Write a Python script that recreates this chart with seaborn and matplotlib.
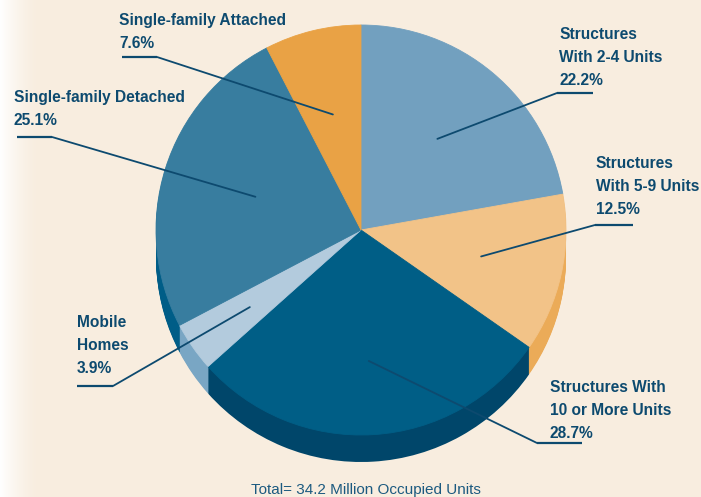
import numpy as np
import matplotlib
matplotlib.use("Agg")
import matplotlib.pyplot as plt
import seaborn as sns

# Housing units by structure type (share of 34.2 million occupied units)
categories = ["Structures\nWith 2-4 Units", "Structures\nWith 5-9 Units",
              "Structures With\n10 or More Units", "Mobile\nHomes",
              "Single-family Detached", "Single-family Attached"]
shares = [22.2, 12.5, 28.7, 3.9, 25.1, 7.6]
top_colors = ["#72A0BF", "#F2C388", "#005E86", "#B3CBDD", "#387D9F", "#E9A245"]
side_colors = ["#5C8BAA", "#EBAB58", "#00466A", "#79A6C4", "#005D87", "#D08A30"]
total_label = "Total= 34.2 Million Occupied Units"

W, H = 701, 497
TXT = "#0D4A6F"

sns.set_theme(style="white")
plt.rcParams["font.family"] = ["Liberation Sans", "DejaVu Sans"]

fig = plt.figure(figsize=(W / 100, H / 100), dpi=100)
fig.patch.set_facecolor("#F8EDDF")
ax = fig.add_axes([0, 0, 1, 1])


def py(y):
    # image-style y (top down) -> axis y
    return H - y


cx, cy, R = 361, py(230), 205
depth = 27

# side of the disc: stacked darker copies of the pie
for k in range(depth, 0, -1):
    ax.pie(shares, colors=side_colors, startangle=90, counterclock=False,
           center=(cx, cy - k), radius=R,
           wedgeprops=dict(linewidth=0.6, edgecolor="none"))
wedges, _ = ax.pie(shares, colors=top_colors, startangle=90, counterclock=False,
                   center=(cx, cy), radius=R, wedgeprops=dict(linewidth=0.6))
for w, c in zip(wedges, top_colors):
    w.set_edgecolor(c)

# faint white fade on the left edge
grad = np.linspace(1, 0, 60)[None, :]
ax.imshow(np.dstack([np.ones((1, 60, 3)), grad[..., None] ** 1.5]),
          extent=(0, 40, 0, H), aspect="auto", zorder=0.5)
ax.set_xlim(0, W)
ax.set_ylim(0, H)
ax.set_aspect("equal")
ax.axis("off")

# label layout: text x, cap top of first line, underline (x0, x1, y),
# which underline end the leader leaves from, leader depth into the wedge
labels = [
    (559, 27, (557, 593, 93), 0, 0.58),
    (596, 156, (595, 633, 225), 0, 0.60),
    (550, 380, (537, 582, 443), 0, 0.64),
    (77, 315, (77, 113, 386), 1, 0.66),
    (14, 90, (17, 52, 137), 1, 0.54),
    (119, 13, (122, 157, 57), 1, 0.58),
]
pitch = 23.4
cap = 11.6

for name, val, (tx, ty, (ux0, ux1, uy), side, frac), w in zip(
        categories, shares, labels, wedges):
    lines = name.split("\n") + [f"{val:.1f}%"]
    for i, line in enumerate(lines):
        ax.text(tx, py(ty + cap + i * pitch), line, ha="left", va="baseline",
                fontsize=11.2, fontweight="bold", color=TXT, zorder=5)
    mid = np.deg2rad((w.theta1 + w.theta2) / 2)
    ex, ey = cx + frac * R * np.cos(mid), cy + frac * R * np.sin(mid)
    sx = ux1 if side == 1 else ux0
    ax.plot([ux0, ux1], [py(uy), py(uy)], color=TXT, lw=1.6, zorder=5,
            solid_capstyle="butt")
    ax.plot([sx, ex], [py(uy), ey], color=TXT, lw=1.3, zorder=5)

ax.text(366, py(494), total_label, ha="center", va="baseline",
        fontsize=11, color="#1C5A80")

fig.savefig("out.png", dpi=100, facecolor=fig.get_facecolor())
